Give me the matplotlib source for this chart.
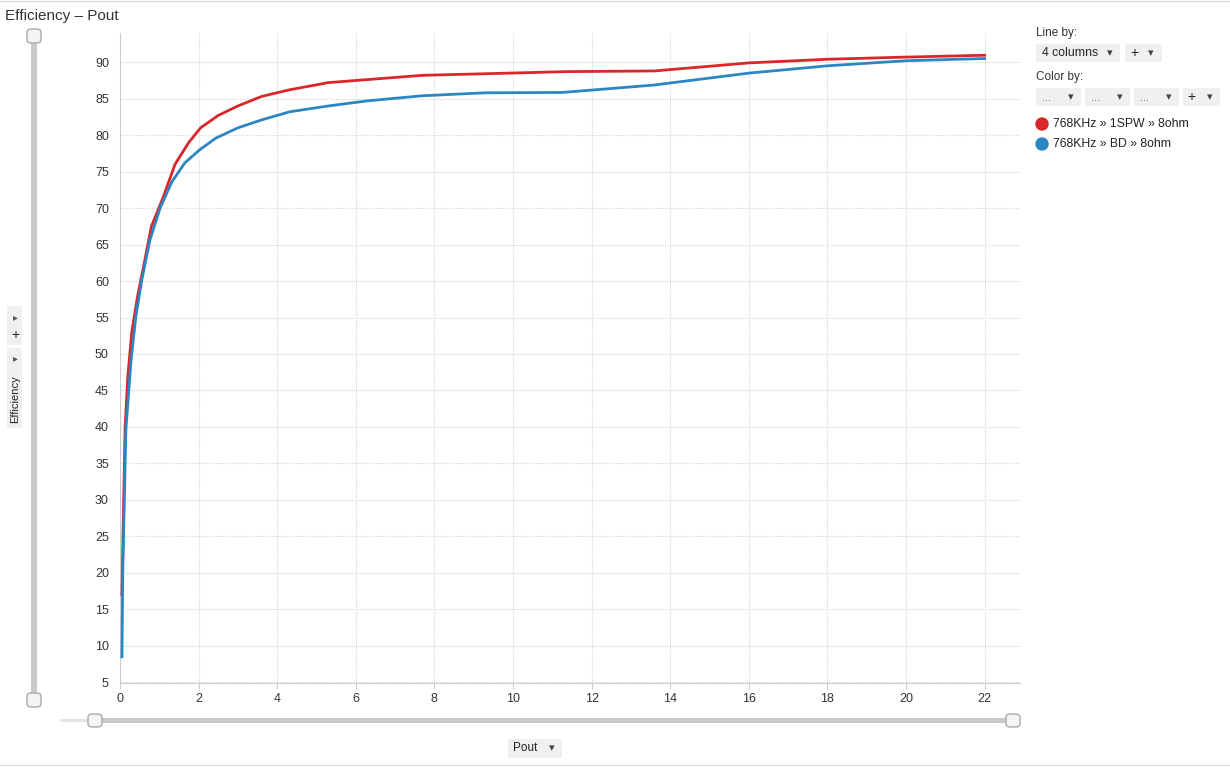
import matplotlib
matplotlib.use("Agg")
import matplotlib.pyplot as plt
from matplotlib.patches import Rectangle, FancyBboxPatch, Ellipse
from matplotlib.lines import Line2D

# data
pout_1spw = [0.05, 0.08, 0.13, 0.2, 0.3, 0.45, 0.6, 0.8, 1.1, 1.4, 1.75, 2.05, 2.5,
             3.0, 3.6, 4.3, 5.3, 7.7, 9.9, 11.3, 13.6, 16.0, 18.0, 20.0, 22.0]
eff_1spw = [17, 26, 40, 47, 53, 58, 62, 67.5, 71.5, 76, 79, 81, 82.7,
            84, 85.3, 86.2, 87.2, 88.2, 88.5, 88.7, 88.8, 89.9, 90.4, 90.7, 90.95]

pout_bd = [0.05, 0.07, 0.15, 0.28, 0.4, 0.55, 0.76, 1.02, 1.32, 1.65, 2.03, 2.44, 3.0,
           3.61, 4.32, 5.3, 6.3, 7.7, 9.28, 11.25, 13.56, 16.0, 18.0, 20.0, 22.0]
eff_bd = [8.5, 20, 39.6, 49, 55, 60, 65.6, 70, 73.6, 76.2, 78, 79.6, 81,
          82.1, 83.2, 84.0, 84.7, 85.4, 85.8, 85.85, 86.85, 88.5, 89.5, 90.2, 90.5]

series_names = ["768KHz \u00bb 1SPW \u00bb 8ohm", "768KHz \u00bb BD \u00bb 8ohm"]
series_colors = ["#d9262b", "#2b86c1"]
x_ticks = list(range(0, 23, 2))
y_ticks = list(range(5, 91, 5))

W, H = 1230, 767
plt.rcParams["font.family"] = ["Liberation Sans", "DejaVu Sans"]
fig = plt.figure(figsize=(W / 100, H / 100), dpi=100)


def fx(px):
    return px / W


def fy(py):
    return 1 - py / H


ax = fig.add_axes([fx(120), fy(683), fx(1020) - fx(120), fy(33) - fy(683)])
ax.plot(pout_1spw, eff_1spw, color=series_colors[0], lw=2.0, solid_joinstyle="round", zorder=3)
ax.plot(pout_bd, eff_bd, color=series_colors[1], lw=2.0, solid_joinstyle="round", zorder=3)
ax.set_xlim(0, 22.9)
ax.set_ylim(4.9, 94)
ax.set_xticks(x_ticks)
ax.set_yticks(y_ticks)
ax.grid(True, color="#d8d8d8", linestyle=(0, (1, 1)), lw=0.8)
for s in ["top", "right"]:
    ax.spines[s].set_visible(False)
ax.spines["left"].set_color("#cccccc")
ax.spines["bottom"].set_color("#cccccc")
ax.tick_params(axis="both", colors="#333333", labelsize=9, length=0, pad=8)
ax.tick_params(axis="x", length=4, color="#cccccc", pad=3)

# title
fig.text(fx(5), fy(16), "Efficiency \u2013 Pout", fontsize=11, color="#333333", va="center")

# top / bottom thin borders
fig.add_artist(Line2D([0, 1], [fy(1), fy(1)], color="#dddddd", lw=1))
fig.add_artist(Line2D([0, 1], [fy(765), fy(765)], color="#dddddd", lw=1))

# vertical slider
fig.add_artist(Rectangle((fx(31), fy(700)), fx(6), fy(36) - fy(700), color="#c8c8c8", lw=0))
for py in (36, 700):
    fig.add_artist(FancyBboxPatch((fx(27), fy(py + 7)), fx(14), fy(py - 7) - fy(py + 7),
                                  boxstyle="round,pad=0,rounding_size=0.004",
                                  fc="#f4f4f4", ec="#aaaaaa", lw=1, transform=fig.transFigure))

# horizontal slider
fig.add_artist(Rectangle((fx(60), fy(722)), fx(95) - fx(60), fy(719) - fy(722), color="#e4e4e4", lw=0))
fig.add_artist(Rectangle((fx(95), fy(723)), fx(1013) - fx(95), fy(718) - fy(723), color="#c8c8c8", lw=0))
for px in (95, 1013):
    fig.add_artist(FancyBboxPatch((fx(px - 7), fy(727)), fx(14), fy(714) - fy(727),
                                  boxstyle="round,pad=0,rounding_size=0.004",
                                  fc="#f4f4f4", ec="#aaaaaa", lw=1, transform=fig.transFigure))

# y-axis label widget
fig.add_artist(Rectangle((fx(7), fy(345)), fx(15), fy(306) - fy(345), color="#f0f0f0", lw=0))
fig.add_artist(Rectangle((fx(7), fy(428)), fx(15), fy(348) - fy(428), color="#f0f0f0", lw=0))
fig.text(fx(15), fy(317), "\u25b8", fontsize=7, color="#555555", ha="center", va="center", family="DejaVu Sans")
fig.text(fx(15), fy(335), "+", fontsize=10, color="#222222", ha="center", va="center")
fig.text(fx(15), fy(358), "\u25b8", fontsize=7, color="#555555", ha="center", va="center", family="DejaVu Sans")
fig.text(fx(15), fy(399), "Efficiency", fontsize=8, color="#222222", ha="center", va="center", rotation=90)

# x-axis label widget
fig.add_artist(Rectangle((fx(508), fy(758)), fx(562) - fx(508), fy(739) - fy(758), color="#f0f0f0", lw=0))
fig.text(fx(513), fy(748), "Pout", fontsize=8.5, color="#222222", va="center")
fig.text(fx(552), fy(748), "\u25be", fontsize=8, color="#444444", ha="center", va="center", family="DejaVu Sans")

# right-hand controls
fig.text(fx(1036), fy(33), "Line by:", fontsize=8.5, color="#333333", va="center")
fig.add_artist(Rectangle((fx(1036), fy(62)), fx(84), fy(44) - fy(62), color="#f0f0f0", lw=0))
fig.text(fx(1042), fy(53), "4 columns", fontsize=8.8, color="#222222", va="center")
fig.text(fx(1110), fy(53), "\u25be", fontsize=8, color="#444444", ha="center", va="center", family="DejaVu Sans")
fig.add_artist(Rectangle((fx(1125), fy(62)), fx(37), fy(44) - fy(62), color="#f0f0f0", lw=0))
fig.text(fx(1134), fy(53), "+", fontsize=10, color="#222222", ha="center", va="center")
fig.text(fx(1151), fy(53), "\u25be", fontsize=8, color="#444444", ha="center", va="center", family="DejaVu Sans")

fig.text(fx(1036), fy(77), "Color by:", fontsize=8.5, color="#333333", va="center")
for left, width, label in [(1036, 45, "..."), (1085, 45, "..."), (1134, 45, "..."), (1183, 37, "+")]:
    fig.add_artist(Rectangle((fx(left), fy(106)), fx(width), fy(88) - fy(106), color="#f0f0f0", lw=0))
    if label == "+":
        fig.text(fx(left + 8), fy(97), "+", fontsize=10, color="#222222", ha="center", va="center")
    else:
        fig.text(fx(left + 6), fy(98), "...", fontsize=8, color="#555555", va="center")
    fig.text(fx(left + width - 10), fy(97), "\u25be", fontsize=8, color="#444444",
             ha="center", va="center", family="DejaVu Sans")

for i, (name, col) in enumerate(zip(series_names, series_colors)):
    py = 124 + 20 * i
    fig.add_artist(Ellipse((fx(1042), fy(py)), 12 / W, 12 / H, color=col, transform=fig.transFigure))
    fig.text(fx(1053), fy(py), name, fontsize=8.8, color="#222222", va="center")

fig.savefig("out.png", dpi=100)
